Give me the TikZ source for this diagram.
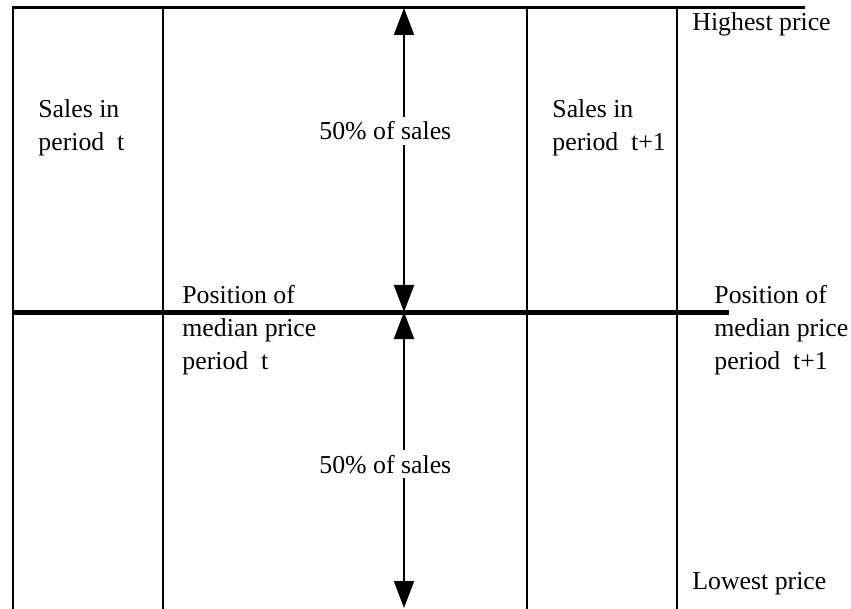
\documentclass[tikz,border=0pt]{standalone}
\usepackage{fontspec}
\setmainfont{Liberation Serif}
\usetikzlibrary{arrows.meta}

\begin{document}
\begin{tikzpicture}[x=0.5pt,y=-0.5pt,
        rule/.style={line width=1pt},
        halfarrow/.style={line width=1pt,{Triangle[length=13.5pt,width=10pt]}-{Triangle[length=13.5pt,width=10pt]}},
        txt/.style={anchor=base west,inner sep=0pt,align=left,font=\fontsize{12.9}{16.5}\selectfont}]
    \useasboundingbox (0,0) rectangle (851,609);
    % price scale
    \draw[line width=1.5pt] (12,8) -- (805,8);
    \draw[rule] (13,8) -- (13,609);
    \draw[rule] (163,8) -- (163,609);
    \draw[rule] (527,8) -- (527,609);
    \draw[rule] (677,8) -- (677,609);
    \draw[line width=2.5pt] (12,312) -- (729,312);
    % the two halves of sales
    \coordinate (hi) at (404,8);
    \coordinate (med) at (404,312);
    \coordinate (lo) at (404,608);
    \draw[halfarrow] (hi) -- (med);
    \draw[halfarrow] (med) -- (lo);
    \node[txt,fill=white,inner xsep=1pt,inner ysep=2.5pt] (upperhalf) at (317,140) {50\% of sales};
    \node[txt,fill=white,inner xsep=1pt,inner ysep=2.5pt] (lowerhalf) at (317,473) {50\% of sales};
    % labels (base = last line)
    \node[txt] (salesT) at (38,151) {Sales in\\period\ \ t};
    \node[txt] (salesT1) at (552,151) {Sales in\\period\ \ t+1};
    \node[txt] (highest) at (692,31) {Highest price};
    \node[txt] (lowest) at (692,589) {Lowest price};
    \node[txt] (medT) at (182,369) {Position of\\median price\\period\ \ t};
    \node[txt] (medT1) at (714,369) {Position of\\median price\\period\ \ t+1};
\end{tikzpicture}
\end{document}
